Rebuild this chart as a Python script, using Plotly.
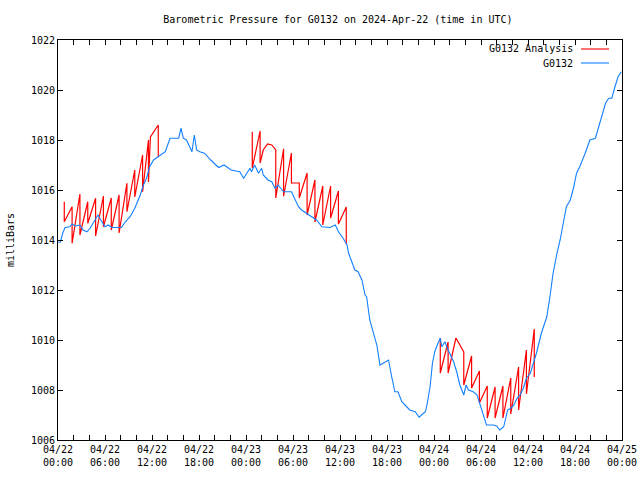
import pandas as pd
import plotly.graph_objects as go

start = pd.Timestamp("2024-04-22 00:00")

# G0132 observed pressure: hours since 2024-04-22 00:00 UTC, millibars
blue_hours = [0.0, 0.3, 0.6, 0.9, 1.5, 1.8, 2.2, 2.8, 3.2, 3.7, 4.1, 4.5, 4.9, 5.1, 5.6, 6.0, 6.4, 6.9,
              8.1, 8.6, 9.2, 9.8, 10.5, 10.9, 11.3, 11.7, 12.2, 12.8, 13.7, 14.3, 14.9, 15.4, 15.7, 16.0,
              16.4, 16.9, 17.1, 17.4, 17.7, 18.1, 18.7, 19.5, 20.5, 21.2, 22.1, 23.2, 23.7, 24.1, 24.5,
              24.7, 25.1, 25.6, 26.0, 26.2, 26.8, 27.3, 27.7, 28.1, 28.8, 29.8, 30.3, 30.7, 31.1, 31.7,
              32.4, 33.0, 33.7, 34.7, 35.4, 35.8, 36.4, 36.9, 37.1, 37.5, 37.9, 38.3, 38.8, 39.2, 39.4,
              39.8, 40.3, 40.7, 41.1, 41.5, 42.2, 42.6, 43.0, 43.4, 43.9, 44.3, 44.9, 45.6, 46.1, 46.4,
              46.9, 47.1, 47.5, 47.8, 48.1, 48.5, 48.8, 49.0, 49.4, 49.8, 50.5, 50.9, 51.3, 51.8, 52.1,
              52.4, 53.0, 53.5, 53.9, 54.3, 54.7, 55.6, 56.0, 56.4, 56.9, 57.1, 57.4, 57.8, 58.2, 58.6,
              59.0, 59.4, 59.8, 60.3, 60.7, 61.1, 61.7, 62.4, 62.8, 63.2, 63.7, 64.1, 64.5, 64.9, 65.4,
              65.8, 66.2, 66.6, 67.3, 67.9, 68.6, 69.0, 69.4, 69.9, 70.3, 70.7, 71.1, 71.5, 71.9]
blue_mb = [1013.91, 1013.92, 1014.27, 1014.5, 1014.53, 1014.64, 1014.56, 1014.6, 1014.4, 1014.33, 1014.47,
           1014.67, 1014.87, 1015.0, 1014.73, 1014.53, 1014.6, 1014.5, 1014.5, 1014.73, 1014.93, 1015.27,
           1015.8, 1016.2, 1016.47, 1016.93, 1017.2, 1017.33, 1017.53, 1018.07, 1018.07, 1018.07, 1018.47,
           1018.07, 1018.0, 1017.67, 1017.53, 1018.2, 1017.6, 1017.53, 1017.47, 1017.2, 1016.9, 1017.0,
           1016.8, 1016.73, 1016.47, 1016.67, 1016.87, 1016.73, 1017.0, 1016.67, 1016.87, 1016.6, 1016.4,
           1016.33, 1016.07, 1016.2, 1015.93, 1015.93, 1015.6, 1015.33, 1015.2, 1015.07, 1014.93, 1014.8,
           1014.53, 1014.5, 1014.6, 1014.33, 1014.07, 1013.8, 1013.47, 1013.13, 1012.8, 1012.73, 1012.4,
           1011.8, 1011.73, 1010.8, 1010.27, 1009.8, 1009.0, 1009.07, 1009.2, 1008.53, 1007.93, 1007.93,
           1007.53, 1007.4, 1007.2, 1007.13, 1006.91, 1007.0, 1007.13, 1007.4, 1008.13, 1009.07, 1009.53,
           1009.87, 1010.07, 1009.73, 1009.93, 1009.6, 1009.13, 1008.73, 1008.2, 1007.8, 1008.2, 1008.0,
           1007.93, 1007.8, 1007.4, 1006.93, 1006.6, 1006.6, 1006.56, 1006.4, 1006.53, 1006.8, 1007.2,
           1007.27, 1007.4, 1007.67, 1007.8, 1008.07, 1008.47, 1008.67, 1009.07, 1009.5, 1010.27, 1010.93,
           1011.73, 1012.67, 1013.47, 1014.0, 1014.67, 1015.33, 1015.6, 1016.07, 1016.67, 1016.93, 1017.47,
           1018.0, 1018.07, 1018.53, 1019.0, 1019.47, 1019.67, 1019.67, 1020.13, 1020.53, 1020.73]

# G0132 Analysis: hourly fitted segments (None = gap)
red_hours = [0.8, 0.8, 1.8, 1.8, 2.8, 2.8, 3.8, 3.8, 4.8, 4.8, 5.8, 5.8, 6.8, 6.8, 7.8, 7.8, 8.8, 8.8,
             9.8, 9.8, 10.8, 10.8, 11.55, 11.55, 11.8, 12.8, 12.8, None,
             24.8, 24.8, 25.8, 25.8, 26.2, 26.75, 27.3, 27.8, 27.8, 28.8, 28.8, 29.8, 29.8, 30.8, 30.8,
             31.8, 31.8, 32.8, 32.8, 33.8, 33.8, 34.8, 34.8, 35.8, 35.8, 36.8, 36.8, None,
             48.8, 48.8, 49.8, 49.8, 50.8, 51.8, 51.8, 52.8, 52.8, 53.8, 53.8, 54.8, 54.8, 55.8, 55.8,
             56.8, 56.8, 57.8, 57.8, 58.8, 58.8, 59.8, 59.8, 60.8, 60.8]
red_mb = [1015.53, 1014.73, 1015.33, 1013.87, 1015.84, 1014.2, 1015.53, 1014.67, 1015.67, 1014.16,
          1015.76, 1014.53, 1015.68, 1014.4, 1015.8, 1014.28, 1016.27, 1015.13, 1016.8, 1015.72,
          1017.4, 1015.93, 1018.0, 1016.32, 1018.12, 1018.6, 1017.32, None,
          1018.33, 1016.88, 1018.36, 1017.08, 1017.6, 1017.84, 1017.8, 1017.6, 1015.68, 1017.65, 1015.75,
          1017.48, 1016.28, 1016.28, 1015.68, 1016.68, 1015.0, 1016.4, 1014.72, 1016.16, 1014.6,
          1016.16, 1014.88, 1015.96, 1014.64, 1015.32, 1013.84, None,
          1010.08, 1008.68, 1009.92, 1008.68, 1010.08, 1009.52, 1008.2, 1009.36, 1008.08, 1008.76,
          1007.48, 1008.16, 1006.88, 1008.12, 1006.88, 1008.16, 1006.88, 1008.48, 1007.04, 1008.92,
          1007.2, 1009.6, 1007.84, 1010.44, 1008.52]

y_ticks = [1006, 1008, 1010, 1012, 1014, 1016, 1018, 1020, 1022]

RED = "#ff0000"
BLUE = "#1380ff"
FONT = "DejaVu Sans Mono"

def to_time(hours):
    return [None if h is None else start + pd.Timedelta(hours=h) for h in hours]

fig = go.Figure()
fig.add_trace(go.Scatter(x=to_time(red_hours), y=red_mb, mode="lines",
                         line=dict(color=RED, width=1.2), connectgaps=False,
                         name="G0132 Analysis", showlegend=False))
fig.add_trace(go.Scatter(x=to_time(blue_hours), y=blue_mb, mode="lines",
                         line=dict(color=BLUE, width=1.1),
                         name="G0132", showlegend=False))

# legend drawn gnuplot-style (text then sample line)
legend_items = [("G0132 Analysis", RED, 0.9775), ("G0132", BLUE, 0.9425)]
for label, color, yy in legend_items:
    fig.add_annotation(x=0.9167, y=yy, xref="paper", yref="paper", text=label,
                       showarrow=False, xanchor="right", yanchor="middle",
                       font=dict(family=FONT, size=10, color="black"))
    fig.add_shape(type="line", xref="paper", yref="paper", x0=0.9273, x1=0.977,
                  y0=yy, y1=yy, line=dict(color=color, width=1.1))

fig.update_layout(
    width=640, height=480,
    margin=dict(l=58, r=18, t=40, b=40, autoexpand=False),
    paper_bgcolor="white", plot_bgcolor="white",
    font=dict(family=FONT, size=10, color="black"),
    title=dict(text="Barometric Pressure for G0132 on 2024-Apr-22 (time in UTC)",
               x=0.528, xanchor="center", y=1 - 19 / 480, yanchor="middle",
               font=dict(family=FONT, size=10, color="black")),
)
fig.update_xaxes(
    type="date", automargin=False,
    range=[start, start + pd.Timedelta(hours=72)],
    tickmode="linear", tick0=start, dtick=6 * 3600 * 1000,
    tickformat="%m/%d<br>%H:%M",
    ticks="inside", ticklen=5, tickcolor="black", tickwidth=1,
    minor=dict(ticks="inside", dtick=2 * 3600 * 1000, ticklen=5, tickcolor="black", tickwidth=1),
    showline=True, linecolor="black", linewidth=1, mirror="ticks",
    showgrid=False, zeroline=False,
    tickfont=dict(family=FONT, size=10, color="black"),
)
fig.update_yaxes(
    automargin=False,
    range=[1006, 1022],
    tickmode="array", tickvals=y_ticks, ticktext=[str(v) for v in y_ticks],
    ticks="inside", ticklen=5, tickcolor="black", tickwidth=1,
    showline=True, linecolor="black", linewidth=1, mirror="ticks",
    showgrid=False, zeroline=False,
    title=dict(text="milliBars", font=dict(family=FONT, size=10, color="black"), standoff=14),
    tickfont=dict(family=FONT, size=10, color="black"),
)

fig.write_html("out.html", config={"displayModeBar": False},
               post_script="document.body.style.margin='0';document.body.style.overflow='hidden';")
